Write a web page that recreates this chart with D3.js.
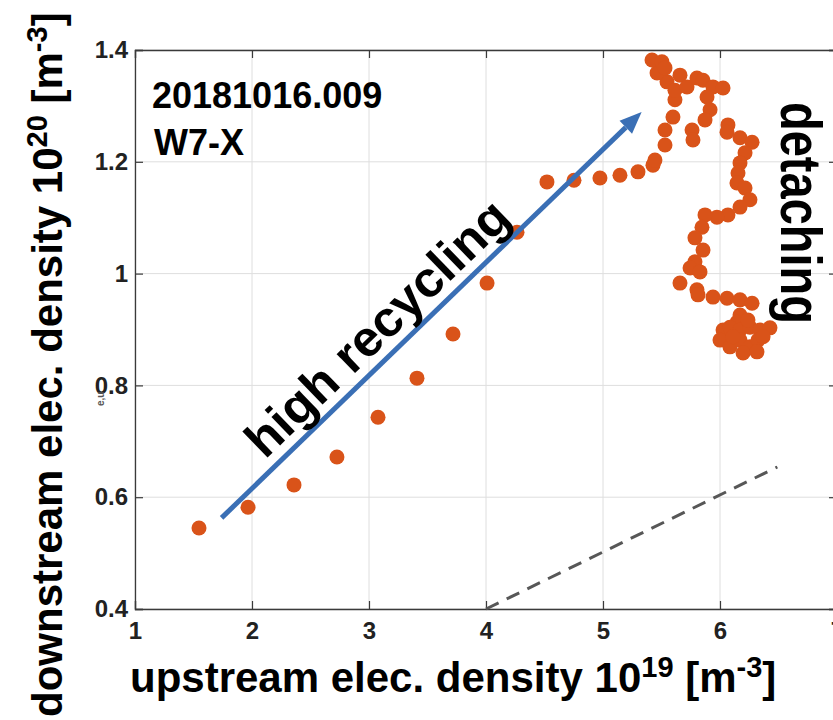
<!DOCTYPE html>
<html>
<head>
<meta charset="utf-8">
<script src="https://cdn.jsdelivr.net/npm/d3@7/dist/d3.min.js"></script>
<style>
  html, body { margin: 0; padding: 0; background: #fff; }
  svg { display: block; font-family: "Liberation Sans", Arial, sans-serif; }
</style>
</head>
<body>
<svg id="chart" width="833" height="720"></svg>
<script>
// upstream density (1e19 m^-3) vs downstream density (1e20 m^-3)
const upDens = [
  1.547, 1.966, 2.359, 2.726, 3.077, 3.410, 3.718, 4.009, 4.265, 4.521,
  4.752, 4.974, 5.145, 5.299, 5.427, 5.444, 5.530, 5.530, 5.598, 5.615,
  5.547, 5.462, 5.419, 5.504, 5.530, 5.658, 5.615, 5.718, 5.803, 5.855,
  5.940, 6.026, 5.889, 5.915, 5.872, 5.761, 5.769, 6.068, 6.060, 6.171,
  6.274, 6.214, 6.171, 6.154, 6.145, 6.214, 6.256, 6.171, 6.068, 5.974,
  5.872, 5.846, 5.786, 5.855, 5.786, 5.744, 5.829, 5.658, 5.803, 5.812,
  5.940, 6.060, 6.171, 6.274, 6.171, 6.145, 6.026, 6.085, 6.171, 6.256,
  6.342, 6.427, 6.000, 6.085, 6.171, 6.256, 6.325, 6.197, 6.316, 6.111,
  6.368, 6.239
];
const downDens = [
  0.545, 0.582, 0.622, 0.672, 0.743, 0.813, 0.892, 0.983, 1.074, 1.164,
  1.167, 1.171, 1.176, 1.182, 1.194, 1.203, 1.230, 1.257, 1.280, 1.311,
  1.343, 1.359, 1.382, 1.379, 1.368, 1.355, 1.328, 1.334, 1.350, 1.346,
  1.334, 1.332, 1.316, 1.293, 1.275, 1.257, 1.239, 1.266, 1.253, 1.243,
  1.235, 1.216, 1.198, 1.180, 1.162, 1.153, 1.132, 1.119, 1.105, 1.101,
  1.105, 1.083, 1.064, 1.042, 1.021, 1.010, 1.003, 0.983, 0.971, 0.962,
  0.958, 0.956, 0.953, 0.947, 0.926, 0.913, 0.899, 0.904, 0.899, 0.904,
  0.899, 0.903, 0.881, 0.869, 0.881, 0.869, 0.881, 0.858, 0.860, 0.887,
  0.887, 0.917
];

const xTicks = [1, 2, 3, 4, 5, 6, 7];
const yTicks = [0.4, 0.6, 0.8, 1, 1.2, 1.4];

// guide lines
const arrowX = [1.74, 5.33];
const arrowY = [0.563, 1.289];
const dashX = [4, 6.49];
const dashY = [0.4, 0.654];

const svg = d3.select("#chart");

const x = d3.scaleLinear().domain([1, 7]).range([135, 837]);
const y = d3.scaleLinear().domain([0.4, 1.4]).range([609, 50]);

const axisCol = "#3a3a3a";
const textCol = "#222";

// grid
const grid = svg.append("g");
grid.selectAll("line.gx")
  .data(xTicks).enter().append("line")
    .attr("x1", d => x(d)).attr("x2", d => x(d))
    .attr("y1", y(0.4)).attr("y2", y(1.4))
    .attr("stroke", "#dedede").attr("stroke-width", 1);
grid.selectAll("line.gy")
  .data(yTicks).enter().append("line")
    .attr("x1", x(1)).attr("x2", x(7))
    .attr("y1", d => y(d)).attr("y2", d => y(d))
    .attr("stroke", "#dedede").attr("stroke-width", 1);

// axes (MATLAB style box with inward ticks)
const tickLen = 8;
const xAxisB = d3.axisBottom(x).tickValues(xTicks).tickSize(-tickLen).tickPadding(13)
  .tickFormat(d3.format("d"));
const xAxisT = d3.axisTop(x).tickValues(xTicks).tickSize(-tickLen).tickFormat("");
const yAxisL = d3.axisLeft(y).tickValues(yTicks).tickSize(-tickLen).tickPadding(7)
  .tickFormat(d => d === 1 ? "1" : d3.format(".1f")(d));
const yAxisR = d3.axisRight(y).tickValues(yTicks).tickSize(-tickLen).tickFormat("");

function styleAxis(g) {
  g.attr("font-family", "Liberation Sans, Arial, sans-serif").attr("font-size", 24);
  g.select(".domain").attr("stroke", axisCol).attr("stroke-width", 1.3);
  g.selectAll(".tick line").attr("stroke", axisCol).attr("stroke-width", 1.2);
  g.selectAll(".tick text")
    .attr("fill", textCol)
    .style("font-size", "24px")
    .style("font-weight", "bold");
}

svg.append("g").attr("transform", `translate(0,${y(0.4)})`).call(xAxisB).call(styleAxis);
svg.append("g").attr("transform", `translate(0,${y(1.4)})`).call(xAxisT).call(styleAxis);
svg.append("g").attr("transform", `translate(${x(1)},0)`).call(yAxisL).call(styleAxis);
svg.append("g").attr("transform", `translate(${x(7)},0)`).call(yAxisR).call(styleAxis);

// dashed reference line
svg.append("line")
  .attr("x1", x(dashX[0])).attr("y1", y(dashY[0]))
  .attr("x2", x(dashX[1])).attr("y2", y(dashY[1]))
  .attr("stroke", "#575757").attr("stroke-width", 3)
  .attr("stroke-dasharray", "14,9");

// data points
svg.append("g")
  .selectAll("circle")
  .data(d3.zip(upDens, downDens))
  .enter().append("circle")
    .attr("cx", d => x(d[0]))
    .attr("cy", d => y(d[1]))
    .attr("r", 7.5)
    .attr("fill", "#D95319");

// blue arrow
const blue = "#3A6FB5";
const ax0 = x(arrowX[0]), ay0 = y(arrowY[0]);
const ax1 = x(arrowX[1]), ay1 = y(arrowY[1]);
const ang = Math.atan2(ay1 - ay0, ax1 - ax0);
const headL = 22, headW = 9;
const bx = ax1 - headL * Math.cos(ang), by = ay1 - headL * Math.sin(ang);
svg.append("line")
  .attr("x1", ax0).attr("y1", ay0).attr("x2", bx).attr("y2", by)
  .attr("stroke", blue).attr("stroke-width", 5);
svg.append("path")
  .attr("d", d3.line()([
    [ax1, ay1],
    [bx + headW * Math.sin(ang), by - headW * Math.cos(ang)],
    [bx - headW * Math.sin(ang), by + headW * Math.cos(ang)]
  ]) + "Z")
  .attr("fill", blue);

// annotations
const bold = sel => sel.attr("font-weight", "bold").attr("fill", "#000");

svg.append("text").text("20181016.009")
  .attr("x", 152).attr("y", 108).attr("font-size", 36).call(bold);
svg.append("text").text("W7-X")
  .attr("x", 154).attr("y", 155).attr("font-size", 36).call(bold);

const angDeg = ang * 180 / Math.PI;
svg.append("text").text("high recycling")
  .attr("transform", `translate(265,460) rotate(${angDeg})`)
  .attr("font-size", 50)
  .attr("textLength", 345).attr("lengthAdjust", "spacingAndGlyphs")
  .call(bold);

svg.append("text").text("detaching")
  .attr("transform", "translate(781,102) rotate(90)")
  .attr("font-size", 58)
  .attr("textLength", 222).attr("lengthAdjust", "spacingAndGlyphs")
  .call(bold);

// axis labels
const xl = svg.append("text")
  .attr("x", 130).attr("y", 692).attr("font-size", 42).call(bold);
xl.append("tspan").text("upstream elec. density 10");
xl.append("tspan").text("19").attr("font-size", 29).attr("dy", -15);
xl.append("tspan").text(" [m").attr("dy", 15);
xl.append("tspan").text("-3").attr("font-size", 29).attr("dy", -15);
xl.append("tspan").text("]").attr("dy", 15);

const yl = svg.append("text")
  .attr("transform", "translate(62,717) rotate(-90)")
  .attr("font-size", 42).call(bold);
yl.append("tspan").text("downstream elec. density 10");
yl.append("tspan").text("20").attr("font-size", 29).attr("dy", -15);
yl.append("tspan").text(" [m").attr("dy", 15);
yl.append("tspan").text("-3").attr("font-size", 29).attr("dy", -15);
yl.append("tspan").text("]").attr("dy", 15);

// leftover subscript of a hidden label
svg.append("text").text("e,u")
  .attr("transform", "translate(104,406) rotate(-90)")
  .attr("font-size", 10).attr("font-weight", "bold").attr("fill", "#555");
</script>
</body>
</html>
